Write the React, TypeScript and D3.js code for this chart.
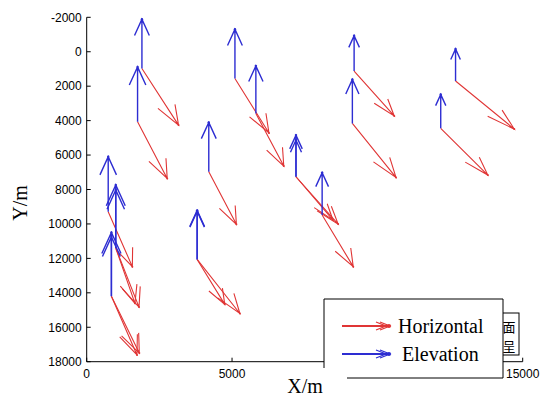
import React from 'react';
import * as d3 from 'd3';

// station positions (m) and displacement vectors (scaled, in axis units)
const stationX = [1900, 1750, 4200, 5100, 5820, 9200, 9140, 12690, 12180, 7200, 7200, 8100, 3800, 3800, 740, 1000, 1000, 850, 850];
const stationY = [970, 4070, 6970, 1550, 3580, 1120, 4160, 1700, 4450, 7260, 7260, 9480, 12060, 12060, 9290, 11400, 11400, 14200, 14200];
// elevation vector: vertical component only (negative = upward on the plot)
const elevDY = [-2860, -3190, -2870, -2860, -2760, -2050, -2550, -1860, -1970, -2420, -2130, -2460, -2850, -2800, -3190, -3660, -3370, -3700, -3450];
// horizontal vector components
const horizDX = [1260, 1020, 950, 1170, 960, 1380, 1500, 2020, 1620, 1450, 1270, 1070, 950, 1470, 830, 800, 660, 880, 960];
const horizDY = [3290, 3290, 3050, 3170, 3060, 2610, 3140, 2790, 2710, 2750, 2510, 3000, 2610, 3140, 3190, 3430, 3210, 3410, 3300];

const xTicks = [0, 5000, 10000, 15000];
const yTicks = [-2000, 0, 2000, 4000, 6000, 8000, 10000, 12000, 14000, 16000, 18000];

const legendItems = ['Horizontal', 'Elevation'];

const W = 540;
const H = 398;
const BLUE = '#2d2dd2';
const RED = '#e03535';

// matlab quiver style head
const ALPHA = 0.33;
const BETA = 0.27;

const x = d3.scaleLinear().domain([0, 15000]).range([86.7, 522.7]);
const y = d3.scaleLinear().domain([-2000, 18000]).range([17.3, 361.7]);

function arrowPath(x0: number, y0: number, u: number, v: number) {
  const ex = x0 + u;
  const ey = y0 + v;
  const w1x = ex - ALPHA * (u + BETA * v);
  const w1y = ey - ALPHA * (v - BETA * u);
  const w2x = ex - ALPHA * (u - BETA * v);
  const w2y = ey - ALPHA * (v + BETA * u);
  const p = d3.path();
  p.moveTo(x(x0), y(y0));
  p.lineTo(x(ex), y(ey));
  p.moveTo(x(w1x), y(w1y));
  p.lineTo(x(ex), y(ey));
  p.lineTo(x(w2x), y(w2y));
  return p.toString();
}

const Arrows: React.FC = () => (
  <g fill="none">
    {stationX.map((sx, i) => {
      const sy = stationY[i];
      return (
        <g key={i}>
          <path d={arrowPath(sx, sy, horizDX[i], horizDY[i])} stroke={RED} strokeWidth={1.1} />
          <circle cx={x(sx + horizDX[i])} cy={y(sy + horizDY[i])} r={1} fill={RED} />
          <path d={arrowPath(sx, sy, 0, elevDY[i])} stroke={BLUE} strokeWidth={1.4} />
          <circle cx={x(sx)} cy={y(sy + elevDY[i])} r={1.2} fill={BLUE} />
        </g>
      );
    })}
  </g>
);

const Legend: React.FC = () => {
  const left = 324, top = 299, right = 503, bottom = 378;
  const colors = [RED, BLUE];
  const rows = [326, 354];
  return (
    <g>
      <rect x={left} y={top} width={right - left} height={bottom - top} fill="#fff" />
      <path
        d={`M${left},368 V${top} H${right} V${bottom} H347`}
        fill="none" stroke="#000" strokeWidth={1}
      />
      {legendItems.map((label, i) => {
        const ly = rows[i];
        const c = colors[i];
        return (
          <g key={label}>
            <line x1={342} x2={389} y1={ly} y2={ly} stroke={c} strokeWidth={2} />
            <path d={`M${376},${ly - 4} L${386},${ly} L${376},${ly + 4}`} fill="none" stroke={c} strokeWidth={1.2} />
            <path d={`M${380},${ly - 4} L${390},${ly} L${380},${ly + 4}`} fill="none" stroke={c} strokeWidth={1.2} />
            <circle cx={389} cy={ly} r={2} fill={c} />
            <text
              x={i === 0 ? 398 : 402}
              y={ly + 7}
              fontFamily="'Liberation Serif', 'Times New Roman', serif"
              fontSize={20}
              fill="#000"
            >{label}</text>
          </g>
        );
      })}
    </g>
  );
};

export default function App() {
  const tickFont = "'Liberation Sans', Arial, sans-serif";
  return (
    <svg width={W} height={H} style={{ position: 'absolute', left: 0, top: 0, background: '#fff' }}>
      {/* axes */}
      <g stroke="#000" strokeWidth={1} fill="none">
        <line x1={x(0)} x2={x(0)} y1={y(-2000)} y2={y(18000)} />
        <line x1={x(0)} x2={x(15000)} y1={y(18000)} y2={y(18000)} />
        {yTicks.map((t) => (
          <line key={t} x1={x(0)} x2={x(0) + 4} y1={y(t)} y2={y(t)} />
        ))}
        {xTicks.map((t) => (
          <line key={t} x1={x(t)} x2={x(t)} y1={y(18000)} y2={y(18000) - 4} />
        ))}
      </g>
      <g fontFamily={tickFont} fontSize={12} fill="#000">
        {yTicks.map((t) => (
          <text key={t} x={x(0) - 5} y={y(t) + 4.3} textAnchor="end">{t}</text>
        ))}
        {xTicks.map((t) => (
          <text key={t} x={x(t)} y={y(18000) + 16} textAnchor="middle">{t}</text>
        ))}
      </g>
      <text
        transform={`translate(27,203) rotate(-90)`}
        textAnchor="middle"
        fontFamily="'Liberation Serif', 'Times New Roman', serif"
        fontSize={20}
      >Y/m</text>
      <text
        x={305}
        y={393}
        textAnchor="middle"
        fontFamily="'Liberation Serif', 'Times New Roman', serif"
        fontSize={20}
      >X/m</text>

      <Arrows />

      {/* leftover box peeking out behind the legend */}
      <rect x={496} y={313} width={23} height={42} fill="#fff" stroke="#000" strokeWidth={1} />
      <g fontFamily="'Noto Sans CJK SC', sans-serif" fontSize={13} textAnchor="middle">
        <text x={509} y={332}>面</text>
        <text x={509} y={351}>呈</text>
      </g>

      <Legend />
    </svg>
  );
}
